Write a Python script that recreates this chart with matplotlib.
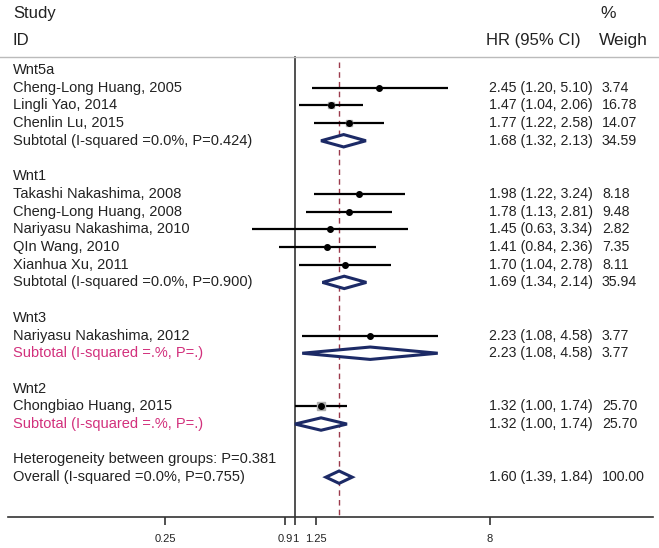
import numpy as np
import matplotlib
matplotlib.use("Agg")
import matplotlib.pyplot as plt
from matplotlib.transforms import blended_transform_factory
from matplotlib.patches import Polygon

plt.rcParams['font.family'] = ['Liberation Sans', 'DejaVu Sans']

# ---------------- data ----------------
group_names = ["Wnt5a", "Wnt1", "Wnt3", "Wnt2"]
studies = [
    ["Cheng-Long Huang, 2005", "Lingli Yao, 2014", "Chenlin Lu, 2015"],
    ["Takashi Nakashima, 2008", "Cheng-Long Huang, 2008", "Nariyasu Nakashima, 2010",
     "QIn Wang, 2010", "Xianhua Xu, 2011"],
    ["Nariyasu Nakashima, 2012"],
    ["Chongbiao Huang, 2015"],
]
study_hr = [[2.45, 1.47, 1.77], [1.98, 1.78, 1.45, 1.41, 1.70], [2.23], [1.32]]
study_lo = [[1.20, 1.04, 1.22], [1.22, 1.13, 0.63, 0.84, 1.04], [1.08], [1.00]]
study_hi = [[5.10, 2.06, 2.58], [3.24, 2.81, 3.34, 2.36, 2.78], [4.58], [1.74]]
study_w = [[3.74, 16.78, 14.07], [8.18, 9.48, 2.82, 7.35, 8.11], [3.77], [25.70]]

subtotal_labels = ["Subtotal (I-squared =0.0%, P=0.424)",
                   "Subtotal (I-squared =0.0%, P=0.900)",
                   "Subtotal (I-squared =.%, P=.)",
                   "Subtotal (I-squared =.%, P=.)"]
subtotal_pink = [False, False, True, True]
sub_hr = [1.68, 1.69, 2.23, 1.32]
sub_lo = [1.32, 1.34, 1.08, 1.00]
sub_hi = [2.13, 2.14, 4.58, 1.74]
sub_w = [34.59, 35.94, 3.77, 25.70]

het_label = "Heterogeneity between groups: P=0.381"
overall_label = "Overall (I-squared =0.0%, P=0.755)"
overall_hr, overall_lo, overall_hi, overall_w = 1.60, 1.39, 1.84, 100.00

tick_values = [0.25, 0.9, 1, 1.25, 8]
tick_labels = ["0.25", "0.9", "1", "1.25", "8"]

# ---------------- figure ----------------
W, H = 659, 548
fig = plt.figure(figsize=(W / 100, H / 100), dpi=100)
ax = fig.add_axes([8 / W, 31 / H, (653 - 8) / W, (H - 31) / H])
ax.set_xscale('log')
ax.set_xlim(np.exp((8 - 295) / 93.8), np.exp((653 - 295) / 93.8))
ax.set_ylim(25.25, -3.95)

for s in ['top', 'right', 'left']:
    ax.spines[s].set_visible(False)
ax.spines['bottom'].set_color('#333333')
ax.spines['bottom'].set_linewidth(1.2)
ax.set_yticks([])
ax.set_xticks(tick_values)
ax.set_xticklabels(tick_labels)
ax.xaxis.set_minor_locator(matplotlib.ticker.NullLocator())
ax.tick_params(axis='x', length=6, width=1.2, color='#333333', labelsize=8, pad=6,
               labelcolor='#222222')

tr = blended_transform_factory(fig.transFigure, ax.transData)
TXT = '#222222'
PINK = '#d2307c'
NAVY = '#1c2a66'
FS_L = 10.5
FS_N = 10.2
XL = 13
XHR = 489
XW = 602

def fx(px):
    return px / W

# headers
ax.text(fx(XL), -3.16, "Study", transform=tr, fontsize=12, color=TXT, va='center')
ax.text(fx(XL), -1.64, "ID", transform=tr, fontsize=12, color=TXT, va='center')
ax.text(fx(486), -1.64, "HR (95% CI)", transform=tr, fontsize=12, color=TXT, va='center')
ax.text(fx(600), -3.16, "%", transform=tr, fontsize=12.5, color=TXT, va='center')
ax.text(fx(599), -1.64, "Weigh", transform=tr, fontsize=12.5, color=TXT, va='center')

ax.plot([0, 1], [-0.73, -0.73], transform=tr, color='#bbbbbb', lw=1, clip_on=False)

# reference lines
ax.plot([1, 1], [-0.73, 25.25], color='#333333', lw=1.2, zorder=1)
ax.plot([overall_hr, overall_hr], [-0.45, 25.25], color='#9c3a4c', lw=1,
        ls=(0, (4, 3)), zorder=1)

def diamond(y, est, lo, hi, h=0.35):
    poly = Polygon([[lo, y], [est, y - h], [hi, y], [est, y + h]], closed=True,
                   facecolor='white', edgecolor=NAVY, lw=2.2, zorder=4)
    ax.add_patch(poly)

def right_cols(y, est, lo, hi, w, color=TXT):
    ax.text(fx(XHR), y, f"{est:.2f} ({lo:.2f}, {hi:.2f})", transform=tr,
            fontsize=FS_N, color=color, va='center')
    ax.text(fx(XW), y, f"{w:.2f}", transform=tr, fontsize=FS_N, color=color, va='center')

row = 0
for g in range(len(group_names)):
    ax.text(fx(XL), row, group_names[g], transform=tr, fontsize=FS_L, color=TXT, va='center')
    row += 1
    for i in range(len(studies[g])):
        ax.text(fx(XL), row, studies[g][i], transform=tr, fontsize=FS_L, color=TXT, va='center')
        ax.plot([study_lo[g][i], study_hi[g][i]], [row, row], color='black', lw=1.6,
                solid_capstyle='butt', zorder=2)
        ax.plot([study_hr[g][i]], [row], marker='s', ms=1.1 * np.sqrt(study_w[g][i]),
                color='#b0b0b0', mec='#b0b0b0', ls='none', zorder=2.5)
        ax.plot([study_hr[g][i]], [row], marker='o', ms=4, color='black', ls='none', zorder=3)
        right_cols(row, study_hr[g][i], study_lo[g][i], study_hi[g][i], study_w[g][i])
        row += 1
    c = PINK if subtotal_pink[g] else TXT
    ax.text(fx(XL), row, subtotal_labels[g], transform=tr, fontsize=FS_L, color=c, va='center')
    diamond(row, sub_hr[g], sub_lo[g], sub_hi[g])
    right_cols(row, sub_hr[g], sub_lo[g], sub_hi[g], sub_w[g])
    row += 2

ax.text(fx(XL), row, het_label, transform=tr, fontsize=FS_L, color=TXT, va='center')
row += 1
ax.text(fx(XL), row, overall_label, transform=tr, fontsize=FS_L, color=TXT, va='center')
diamond(row, overall_hr, overall_lo, overall_hi)
right_cols(row, overall_hr, overall_lo, overall_hi, overall_w)

fig.savefig("out.png", dpi=100, facecolor='white')
